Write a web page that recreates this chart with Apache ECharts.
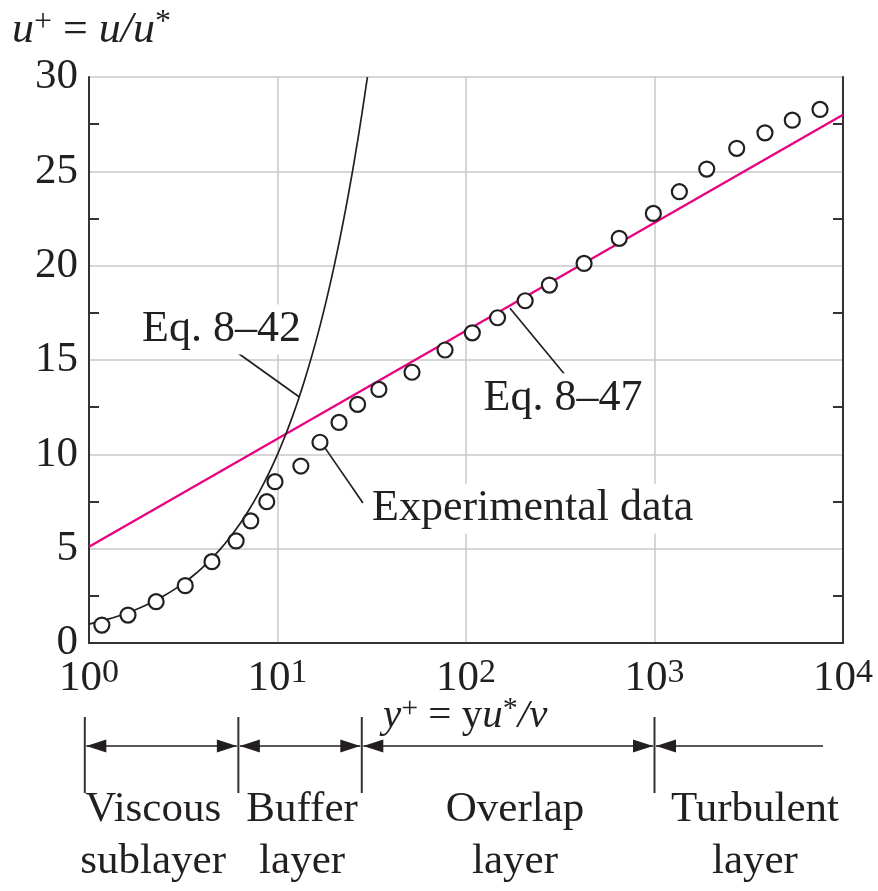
<!DOCTYPE html>
<html><head><meta charset="utf-8">
<script src="https://cdn.jsdelivr.net/npm/echarts@6/dist/echarts.min.js"></script>
<style>html,body{margin:0;padding:0;background:#fff}#c{width:878px;height:891px}</style>
</head><body><div id="c"></div>
<script>
const FONT = '"Liberation Serif", "DejaVu Serif", serif';
const INK = '#231f20';
const AXIS = '#333333';
const GRID = '#c8c8c8';
const PINK = '#e8007f';

// ---- axes ----
const yMin = 0, yMax = 30, yInterval = 5;
const yMinorTicks = [2.5, 7.5, 12.5, 17.5, 22.5, 27.5];
const xMin = 1, xMax = 10000;
const xTickValues = [1, 10, 100, 1000, 10000];
const xTickExponents = ['0', '1', '2', '3', '4'];

// ---- experimental data (y+, u+) ----
const expYPlus = [1.17, 1.61, 2.27, 3.24, 4.49, 6.03, 7.21, 8.77, 9.7, 13.3, 16.8, 21.2, 26.6, 34.5, 51.7,
  77.4, 108, 147, 206, 277, 423, 650, 986, 1355, 1893, 2730, 3855, 5383, 7551];
const expUPlus = [0.95, 1.48, 2.19, 3.04, 4.31, 5.41, 6.47, 7.49, 8.55, 9.38, 10.64, 11.69, 12.65, 13.44, 14.35,
  15.53, 16.44, 17.24, 18.14, 18.97, 20.12, 21.45, 22.77, 23.92, 25.12, 26.22, 27.04, 27.71, 28.28];

// ---- Eq. 8-42 (viscous sublayer curve) ----
const eq842YPlus = [1, 1.25, 1.5, 1.75, 2, 2.5, 3, 3.5, 4, 5, 6, 7, 8, 9, 10, 11, 12, 13, 14, 16, 18, 20, 22, 24, 26, 28, 30];
const eq842UPlus = [1, 1.25, 1.5, 1.75, 2, 2.5, 3, 3.5, 4, 5, 6, 7, 8, 9, 10, 11, 12, 13, 14, 16, 18, 20, 22, 24, 26, 28, 30];

// ---- Eq. 8-47 (log law) ----
const eq847YPlus = [1, 10000];
const eq847UPlus = [5.1, 28.0];

// ---- annotations (data coordinates) ----
const annTexts = ['Eq. 8\u201342', 'Eq. 8\u201347', 'Experimental data'];
const annTextAt = [[1.865, 16.62], [121, 12.97], [30.96, 7.12]];
const annLeaderFrom = [[6.03, 15.44], [171.2, 17.74], [17.9, 10.33]];
const annLeaderTo = [[13.0, 13.05], [339.3, 14.15], [28.4, 7.42]];

// ---- layer regions below the axis ----
const layerBounds = [0.95, 6.2, 28, 1000];
const layerEnd = 7840;
const layerNames = ['Viscous\nsublayer', 'Buffer\nlayer', 'Overlap\nlayer', 'Turbulent\nlayer'];
const layerLabelX = [2.19, 13.5, 182, 3410];

const zip = (a, b) => a.map((v, i) => [v, b[i]]);

const chart = echarts.init(document.getElementById('c'), null, {renderer: 'canvas'});

const yAxisCommon = {
  type: 'value', min: yMin, max: yMax, interval: yInterval,
  axisLine: {show: true, lineStyle: {color: AXIS, width: 2}},
  axisTick: {show: true, inside: true, length: 10, customValues: yMinorTicks, lineStyle: {color: AXIS, width: 2}},
  splitLine: {show: false}
};

chart.setOption({
  animation: false,
  backgroundColor: '#fff',
  grid: {left: 89, right: 35, top: 77, bottom: 248, containLabel: false, outerBoundsMode: 'none'},
  xAxis: [{
    type: 'log', logBase: 10, min: xMin, max: xMax,
    axisLine: {show: true, lineStyle: {color: AXIS, width: 2}},
    axisTick: {show: false},
    splitLine: {show: true, lineStyle: {color: GRID, width: 1.5}},
    axisLabel: {
      margin: 13,
      formatter: function (v) {
        const k = xTickValues.findIndex(t => Math.abs(t - v) < 1e-6 * t);
        return k < 0 ? '' : '{b|10}{s|' + xTickExponents[k] + '}';
      },
      rich: {
        b: {fontFamily: FONT, fontSize: 43, color: INK, lineHeight: 46},
        s: {fontFamily: FONT, fontSize: 34, color: INK, lineHeight: 29, verticalAlign: 'top'}
      }
    }
  }, {
    type: 'log', logBase: 10, min: xMin, max: xMax, position: 'top',
    axisLine: {show: true, lineStyle: {color: AXIS, width: 2}},
    axisTick: {show: false}, axisLabel: {show: false}, splitLine: {show: false}
  }],
  yAxis: [{
    // horizontal grid lines at the major values
    type: 'value', min: yMin, max: yMax, interval: yInterval, position: 'left', offset: 0,
    axisLine: {show: false}, axisTick: {show: false}, axisLabel: {show: false},
    splitLine: {show: true, lineStyle: {color: GRID, width: 1.5}}
  }, Object.assign({}, yAxisCommon, {
    position: 'left',
    axisLabel: {fontFamily: FONT, fontSize: 43, color: INK, margin: 11}
  }), Object.assign({}, yAxisCommon, {
    position: 'right',
    axisLabel: {show: false}
  })],
  series: [{
    type: 'line', name: 'Eq. 8-47', data: zip(eq847YPlus, eq847UPlus), yAxisIndex: 1,
    symbol: 'none', lineStyle: {color: PINK, width: 2.2}, z: 2, silent: true
  }, {
    type: 'line', name: 'Eq. 8-42', data: zip(eq842YPlus, eq842UPlus), yAxisIndex: 1,
    symbol: 'none', smooth: 0.3, lineStyle: {color: INK, width: 1.7}, z: 3, silent: true
  }, {
    type: 'scatter', name: 'Experimental data', data: zip(expYPlus, expUPlus), yAxisIndex: 1,
    symbol: 'circle', symbolSize: 15,
    itemStyle: {color: '#fff', borderColor: INK, borderWidth: 2.2, opacity: 1}, z: 5
  }]
});

const P = (x, y) => chart.convertToPixel({xAxisIndex: 0, yAxisIndex: 1}, [x, y]);
const g = [];

// annotation labels and leaders
annTexts.forEach((t, i) => {
  const a = P(annTextAt[i][0], annTextAt[i][1]);
  g.push({type: 'text', x: a[0], y: a[1], z: 10, style: {
    text: t, fontFamily: FONT, fontSize: 44, fill: INK, align: 'left', verticalAlign: 'middle',
    backgroundColor: '#fff', padding: [3, 2, 3, 2]
  }});
  const p1 = P(annLeaderFrom[i][0], annLeaderFrom[i][1]);
  const p2 = P(annLeaderTo[i][0], annLeaderTo[i][1]);
  g.push({type: 'line', z: 9, shape: {x1: p1[0], y1: p1[1], x2: p2[0], y2: p2[1]},
    style: {stroke: INK, lineWidth: 1.7}});
});

// layer diagram
const LY = 746, LT = 717, LB = 793, AH = 20, AW = 6.5;
const bx = layerBounds.map(b => P(b, 0)[0]);
const ex = P(layerEnd, 0)[0];
bx.forEach(x => g.push({type: 'line', shape: {x1: x, y1: LT, x2: x, y2: LB}, style: {stroke: AXIS, lineWidth: 2}}));
bx.forEach((xa, i) => {
  const xb = i < bx.length - 1 ? bx[i + 1] : ex;
  const a = xa + 1.5, b = i < bx.length - 1 ? xb - 1.5 : xb;
  g.push({type: 'line', shape: {x1: a, y1: LY, x2: b, y2: LY}, style: {stroke: INK, lineWidth: 1.7}});
  g.push({type: 'polygon', shape: {points: [[a, LY], [a + AH, LY - AW], [a + AH, LY + AW]]}, style: {fill: INK}});
  if (i < bx.length - 1) {
    g.push({type: 'polygon', shape: {points: [[b, LY], [b - AH, LY - AW], [b - AH, LY + AW]]}, style: {fill: INK}});
  }
  const cx = P(layerLabelX[i], 0)[0];
  g.push({type: 'text', x: cx, y: 836, style: {
    text: layerNames[i], fontFamily: FONT, fontSize: 43, lineHeight: 52, fill: INK,
    align: 'center', verticalAlign: 'middle'
  }});
});

// axis titles
g.push({type: 'text', x: 12, y: 30, style: {
  text: '{i|u}{s|+}{n| = }{i|u/u}{s|*}', align: 'left', verticalAlign: 'middle',
  rich: {
    i: {fontFamily: FONT, fontSize: 44, fontStyle: 'italic', fill: INK, lineHeight: 46},
    n: {fontFamily: FONT, fontSize: 44, fill: INK, lineHeight: 46},
    s: {fontFamily: FONT, fontSize: 32, fill: INK, lineHeight: 26, verticalAlign: 'top'}
  }
}});
g.push({type: 'text', x: 383, y: 716, style: {
  text: '{i|y}{s|+}{n| = y}{i|u}{s|*}{i|/\u03bd}', align: 'left', verticalAlign: 'middle',
  rich: {
    i: {fontFamily: FONT, fontSize: 41, fontStyle: 'italic', fill: INK, lineHeight: 44},
    n: {fontFamily: FONT, fontSize: 41, fill: INK, lineHeight: 44},
    s: {fontFamily: FONT, fontSize: 30, fill: INK, lineHeight: 24, verticalAlign: 'top'}
  }
}});

chart.setOption({graphic: {elements: g}});
</script>
</body></html>
